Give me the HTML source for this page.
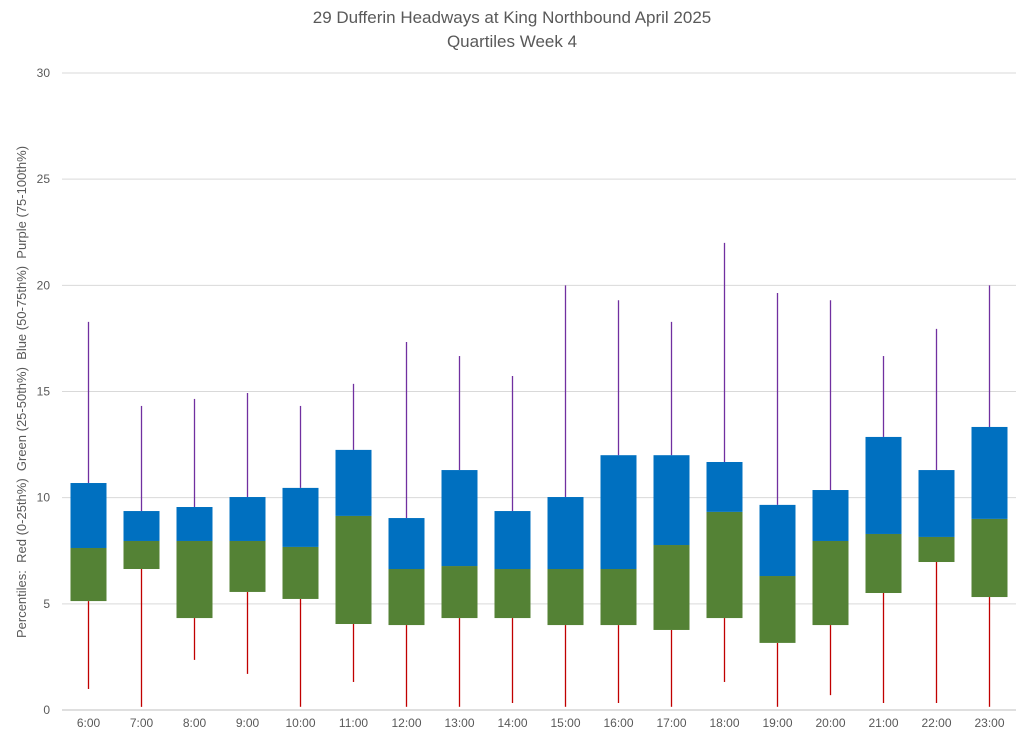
<!DOCTYPE html>
<html><head><meta charset="utf-8"><style>
body{margin:0;background:#fff;font-family:"Liberation Sans",Calibri,sans-serif}
svg text{font-family:"Liberation Sans",sans-serif}
</style></head><body>
<svg id="chart" width="1024" height="745" viewBox="0 0 1024 745">
<text x="512" y="23" text-anchor="middle" font-size="17" fill="#595959">29 Dufferin Headways at King Northbound April 2025</text>
<text x="512" y="47" text-anchor="middle" font-size="17" fill="#595959">Quartiles Week 4</text>
<text transform="translate(26,392) rotate(-90)" text-anchor="middle" font-size="13" fill="#595959" xml:space="preserve">Percentiles:  Red (0-25th%)  Green (25-50th%)  Blue (50-75th%)  Purple (75-100th%)</text>
<g id="grid"></g><g id="marks"></g><g id="labels"></g>
</svg>
<script>
const categories=["6:00","7:00","8:00","9:00","10:00","11:00","12:00","13:00","14:00","15:00","16:00","17:00","18:00","19:00","20:00","21:00","22:00","23:00"];
const minVals=[0.99,0.15,2.36,1.7,0.15,1.32,0.15,0.15,0.33,0.15,0.33,0.15,1.32,0.15,0.7,0.33,0.33,0.15];
const q1Vals=[5.13,6.64,4.33,5.56,5.23,4.05,4.0,4.33,4.33,4.0,4.0,3.77,4.33,3.16,4.0,5.51,6.97,5.32];
const medianVals=[7.63,7.96,7.96,7.96,7.68,9.14,6.64,6.78,6.64,6.64,6.64,7.77,9.33,6.31,7.96,8.29,8.15,9.0];
const q3Vals=[10.69,9.37,9.56,10.03,10.46,12.25,9.04,11.3,9.37,10.03,12.0,12.0,11.68,9.66,10.36,12.86,11.3,13.33];
const maxVals=[18.28,14.32,14.65,14.93,14.32,15.36,17.33,16.67,15.73,20.0,19.3,18.28,22.0,19.64,19.3,16.67,17.95,20.0];
const yTicks=[0,5,10,15,20,25,30];
const NS="http://www.w3.org/2000/svg";
const left=62,right=1016,y0=710,y30=73;
const y=v=>y0-(v/30)*(y0-y30);
const band=(right-left)/categories.length;
const x=i=>left+band*(i+0.5);
const bw=36;
function mk(t,a,p){const e=document.createElementNS(NS,t);for(const k in a)e.setAttribute(k,a[k]);p.appendChild(e);return e;}
const grid=document.getElementById('grid'),marks=document.getElementById('marks'),labels=document.getElementById('labels');
yTicks.forEach(t=>{
  const l=mk('line',{x1:left,x2:right,y1:y(t),y2:y(t),stroke:t===0?'#bfbfbf':'#d9d9d9','stroke-width':1},grid);
  
  
  const tx=mk('text',{x:50,y:y(t)+4,'text-anchor':'end','font-size':12,fill:'#595959'},labels);
  tx.textContent=t;
  
  
});
categories.forEach((c,i)=>{
  const cx=x(i);
  const lw=mk('line',{x1:cx,x2:cx,y1:y(minVals[i]),y2:y(q1Vals[i]),stroke:'#C00000','stroke-width':1.3},marks);
  
  
  const uw=mk('line',{x1:cx,x2:cx,y1:y(maxVals[i]),y2:y(q3Vals[i]),stroke:'#7030A0','stroke-width':1.3},marks);
  
  
  const g=mk('rect',{x:cx-bw/2,y:y(medianVals[i]),width:bw,height:y(q1Vals[i])-y(medianVals[i]),fill:'#548235'},marks);
  
  
  const b=mk('rect',{x:cx-bw/2,y:y(q3Vals[i]),width:bw,height:y(medianVals[i])-y(q3Vals[i]),fill:'#0070C0'},marks);
  
  
  const tx=mk('text',{x:cx,y:727,'text-anchor':'middle','font-size':12,fill:'#595959'},labels);
  tx.textContent=c;
  
  
});
</script>
</body></html>
